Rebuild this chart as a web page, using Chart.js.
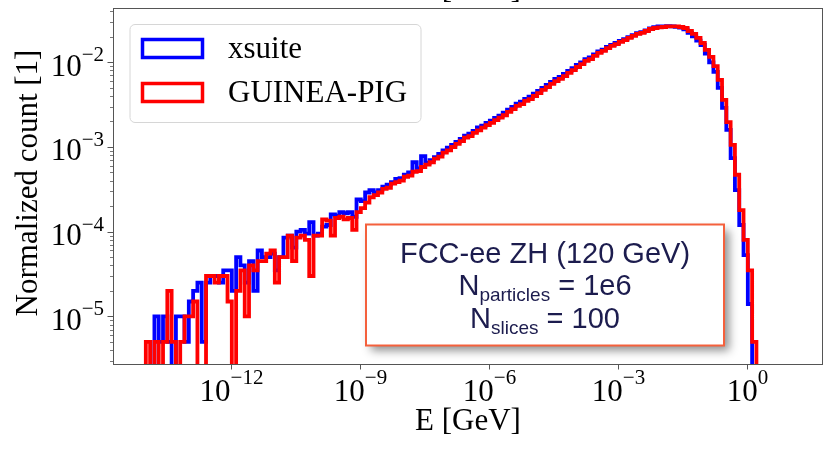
<!DOCTYPE html>
<html>
<head>
<meta charset="utf-8">
<script src="https://cdn.jsdelivr.net/npm/chart.js@4.4.1/dist/chart.umd.min.js"></script>
<style>
  html, body { margin: 0; padding: 0; background: #fff; }
  #wrap { width: 827px; height: 450px; }
</style>
</head>
<body>
<div id="wrap"><canvas id="spectrumChart" width="827" height="450"></canvas></div>
<script>
// histogram bins: log10 of the first edge and the log10 width of each bin
const firstEdgeExp = -13.98;
const binStepExp = 0.1;

// normalized counts per bin, empty bins are 0
const xsuiteCounts = [
  0, 0, 1e-5, 5e-6, 1e-5, 5e-6, 0, 1e-5, 1e-5, 5e-6,
  1.5e-5, 2e-5, 2.5e-5, 5e-6, 2.5e-5, 3e-5, 3e-5, 2.5e-5, 3.5e-5, 3.5e-5,
  2e-5, 5e-5, 4e-5, 2.5e-5, 4.5e-5, 2e-5, 6e-5, 5e-5, 5e-5, 5.5e-5,
  3.5e-5, 5e-5, 8.5e-5, 9e-5, 6.5e-5, 1e-4, 1.05e-4, 9.5e-5, 1.3e-4, 9e-5,
  9.5e-5, 1.15e-4, 1.2e-4, 1.6e-4, 1.55e-4, 1.7e-4, 1.65e-4, 1.7e-4, 1.5e-4, 2.4e-4,
  2.3e-4, 2.9e-4, 3.1e-4, 2.9e-4, 3.1e-4, 3.4e-4, 3.6e-4, 3.85e-4, 4.2e-4, 4.3e-4,
  4.7e-4, 5.0e-4, 6.6e-4, 5.6e-4, 7.8e-4, 6.5e-4, 7.0e-4, 7.6e-4, 8.3e-4, 9.1e-4,
  9.8e-4, 1.06e-3, 1.15e-3, 1.25e-3, 1.36e-3, 1.44e-3, 1.55e-3, 1.7e-3, 1.78e-3, 1.93e-3,
  2.05e-3, 2.2e-3, 2.35e-3, 2.55e-3, 2.75e-3, 2.98e-3, 3.25e-3, 3.42e-3, 3.7e-3, 3.92e-3,
  4.25e-3, 4.6e-3, 5.0e-3, 5.4e-3, 5.85e-3, 6.35e-3, 6.7e-3, 7.3e-3, 7.9e-3, 8.55e-3,
  9.3e-3, 1.0e-2, 1.09e-2, 1.14e-2, 1.24e-2, 1.34e-2, 1.41e-2, 1.52e-2, 1.6e-2, 1.69e-2,
  1.79e-2, 1.88e-2, 1.98e-2, 2.09e-2, 2.2e-2, 2.27e-2, 2.38e-2, 2.52e-2, 2.6e-2, 2.66e-2,
  2.66e-2, 2.67e-2, 2.65e-2, 2.62e-2, 2.56e-2, 2.45e-2, 2.22e-2, 2.02e-2, 1.8e-2, 1.6e-2,
  1.27e-2, 1.0e-2, 7.7e-3, 5.0e-3, 2.9e-3, 1.59e-3, 7.4e-4, 3.1e-4, 1.2e-4, 5.3e-5, 1.4e-5, 0
];
const guineaPigCounts = [
  5e-6, 0, 5e-6, 0, 5e-6, 2e-5, 5e-6, 0, 5e-6, 1e-5,
  1e-5, 1.5e-5, 0, 0, 3e-5, 3e-5, 2.5e-5, 3e-5, 3e-5, 1.5e-5,
  0, 2e-5, 3.5e-5, 1e-5, 4e-5, 3.5e-5, 4.5e-5, 4.5e-5, 5.5e-5, 6e-5,
  2.5e-5, 5e-5, 5e-5, 9e-5, 4.5e-5, 8.5e-5, 9e-5, 8e-5, 3e-5, 9e-5,
  9e-5, 1.4e-4, 1.35e-4, 9e-5, 1.45e-4, 1.5e-4, 1.4e-4, 1.45e-4, 1.05e-4, 1.7e-4,
  1.9e-4, 2.2e-4, 2.55e-4, 2.7e-4, 2.9e-4, 3.2e-4, 3.3e-4, 3.7e-4, 3.85e-4, 4.0e-4,
  4.45e-4, 4.6e-4, 5.1e-4, 5.2e-4, 5.8e-4, 6.2e-4, 6.6e-4, 7.3e-4, 7.7e-4, 8.6e-4,
  9.1e-4, 1.0e-3, 1.09e-3, 1.17e-3, 1.29e-3, 1.34e-3, 1.47e-3, 1.57e-3, 1.69e-3, 1.81e-3,
  1.93e-3, 2.07e-3, 2.22e-3, 2.37e-3, 2.6e-3, 2.8e-3, 3.06e-3, 3.2e-3, 3.5e-3, 3.68e-3,
  4.0e-3, 4.32e-3, 4.73e-3, 5.08e-3, 5.55e-3, 6.0e-3, 6.38e-3, 6.86e-3, 7.5e-3, 8.1e-3,
  8.8e-3, 9.5e-3, 1.04e-2, 1.09e-2, 1.19e-2, 1.29e-2, 1.36e-2, 1.47e-2, 1.56e-2, 1.64e-2,
  1.74e-2, 1.83e-2, 1.94e-2, 2.05e-2, 2.16e-2, 2.22e-2, 2.34e-2, 2.47e-2, 2.54e-2, 2.58e-2,
  2.61e-2, 2.65e-2, 2.65e-2, 2.65e-2, 2.61e-2, 2.54e-2, 2.34e-2, 2.16e-2, 1.94e-2, 1.69e-2,
  1.40e-2, 1.16e-2, 9.0e-3, 6.2e-3, 3.6e-3, 1.97e-3, 1.06e-3, 4.7e-4, 1.8e-4, 8e-5, 3.5e-5, 5e-6
];

const seriesNames = ['xsuite', 'GUINEA-PIG'];
const xTickExps = [-12, -9, -6, -3, 0];
const yTickExps = [-5, -4, -3, -2];
const infoLines = ['FCC-ee ZH (120 GeV)', '1e6', '100'];

const serif = '"Liberation Serif", "Times New Roman", serif';
const sans = '"Liberation Sans", Arial, sans-serif';
const emptyLevel = 1e-9; // empty bins go below the axis like in matplotlib

// step outline: start at the floor, one point per left edge, close at the floor
function stepPoints(counts) {
  const pts = [{ x: Math.pow(10, firstEdgeExp), y: emptyLevel }];
  counts.forEach((c, i) => {
    pts.push({ x: Math.pow(10, firstEdgeExp + i * binStepExp), y: c > 0 ? c : emptyLevel });
  });
  const lastEdge = Math.pow(10, firstEdgeExp + counts.length * binStepExp);
  const last = counts[counts.length - 1];
  pts.push({ x: lastEdge, y: last > 0 ? last : emptyLevel });
  pts.push({ x: lastEdge, y: emptyLevel });
  return pts;
}

function drawPower(ctx, exp, x, baseY, supY, align) {
  const base = '10';
  const sup = (exp < 0 ? '\u2212' : '') + Math.abs(exp);
  ctx.font = '31px ' + serif;
  const wb = ctx.measureText(base).width;
  ctx.font = '21px ' + serif;
  const ws = ctx.measureText(sup).width;
  const x0 = align === 'right' ? x - wb - ws : x - (wb + ws) / 2;
  ctx.textAlign = 'left';
  ctx.textBaseline = 'alphabetic';
  ctx.font = '31px ' + serif;
  ctx.fillText(base, x0, baseY);
  ctx.font = '21px ' + serif;
  ctx.fillText(sup, x0 + wb, supY);
}

const decorations = {
  id: 'decorations',
  afterDatasetsDraw(chart) {
    const ctx = chart.ctx;
    const a = chart.chartArea;
    const xs = chart.scales.x, ys = chart.scales.y;
    ctx.save();

    // frame
    ctx.strokeStyle = '#555';
    ctx.lineWidth = 1;
    ctx.strokeRect(Math.round(a.left) - 0.5, Math.round(a.top) - 0.5, a.right - a.left + 1, a.bottom - a.top + 1);

    // y ticks (major + minor) and labels
    ctx.fillStyle = '#000';
    for (let e = -6; e <= -1; e++) {
      for (let m = 1; m <= 9; m++) {
        const v = m * Math.pow(10, e);
        if (v < ys.min || v > ys.max) continue;
        const py = Math.round(ys.getPixelForValue(v)) + 0.5;
        const len = m === 1 ? 6 : 3.5;
        ctx.beginPath();
        ctx.lineWidth = m === 1 ? 1 : 0.8;
        ctx.moveTo(a.left - 0.5, py);
        ctx.lineTo(a.left - 0.5 - len, py);
        ctx.stroke();
      }
    }
    yTickExps.forEach(e => {
      const py = ys.getPixelForValue(Math.pow(10, e));
      drawPower(ctx, e, 104, py + 13.5, py - 1, 'right');
    });

    // x ticks and labels
    xTickExps.forEach(e => {
      const px = Math.round(xs.getPixelForValue(Math.pow(10, e))) + 0.5;
      ctx.beginPath();
      ctx.lineWidth = 1;
      ctx.moveTo(px, a.bottom + 0.5);
      ctx.lineTo(px, a.bottom + 5.5);
      ctx.stroke();
      drawPower(ctx, e, px, 401, 383.5, 'center');
    });

    // axis titles (the upper copy is the clipped label of the panel above)
    ctx.font = '31px ' + serif;
    ctx.textAlign = 'center';
    ctx.textBaseline = 'alphabetic';
    const cx = (a.left + a.right) / 2;
    ctx.fillText('E [GeV]', cx, 430);
    ctx.fillText('E [GeV]', cx, -2.5);
    ctx.save();
    ctx.translate(36.5, 183);
    ctx.rotate(-Math.PI / 2);
    ctx.fillText('Normalized count [1]', 0, 0);
    ctx.restore();

    // legend
    ctx.beginPath();
    ctx.roundRect(130, 24.5, 291, 98, 5);
    ctx.fillStyle = 'rgba(255,255,255,0.85)';
    ctx.fill();
    ctx.strokeStyle = '#d6d6d6';
    ctx.lineWidth = 1;
    ctx.stroke();
    const colors = ['#0000ff', '#ff0000'];
    seriesNames.forEach((name, i) => {
      const top = 39.5 + i * 44;
      ctx.strokeStyle = colors[i];
      ctx.lineWidth = 3.5;
      ctx.lineJoin = 'miter';
      ctx.strokeRect(142.5, top, 60, 18);
      ctx.fillStyle = '#000';
      ctx.font = '31px ' + serif;
      ctx.textAlign = 'left';
      ctx.fillText(name, 228, 58.3 + i * 44);
    });

    // info box with shadow
    const bx = 366, by = 224.5, bw = 358, bh = 121;
    ctx.save();
    ctx.shadowColor = 'rgba(0,0,0,0.45)';
    ctx.shadowBlur = 9;
    ctx.shadowOffsetX = 5;
    ctx.shadowOffsetY = 5;
    ctx.fillStyle = '#fff';
    ctx.fillRect(bx, by, bw, bh);
    ctx.restore();
    ctx.strokeStyle = '#f4603c';
    ctx.lineWidth = 2;
    ctx.strokeRect(bx, by, bw, bh);

    const tc = bx + bw / 2;
    ctx.fillStyle = '#1c1c4e';
    ctx.textAlign = 'center';
    ctx.font = '29px ' + sans;
    ctx.fillText(infoLines[0], tc, 263);

    const subLine = (sub, rest, baseY) => {
      ctx.font = '29px ' + sans;
      const wN = ctx.measureText('N').width;
      const wR = ctx.measureText(' = ' + rest).width;
      ctx.font = '19px ' + sans;
      const wS = ctx.measureText(sub).width;
      let x0 = tc - (wN + wS + wR) / 2;
      ctx.textAlign = 'left';
      ctx.font = '29px ' + sans;
      ctx.fillText('N', x0, baseY);
      ctx.font = '19px ' + sans;
      ctx.fillText(sub, x0 + wN, baseY + 6);
      ctx.font = '29px ' + sans;
      ctx.fillText(' = ' + rest, x0 + wN + wS, baseY);
    };
    subLine('particles', infoLines[1], 295);
    subLine('slices', infoLines[2], 328);

    ctx.restore();
  }
};

new Chart(document.getElementById('spectrumChart'), {
  type: 'line',
  data: {
    datasets: [
      {
        label: seriesNames[0],
        data: stepPoints(xsuiteCounts),
        borderColor: '#0000ff',
        borderWidth: 3.8,
        order: 1
      },
      {
        label: seriesNames[1],
        data: stepPoints(guineaPigCounts),
        borderColor: '#ff0000',
        borderWidth: 3.8,
        order: 0
      }
    ]
  },
  options: {
    responsive: false,
    animation: false,
    devicePixelRatio: 1,
    parsing: false,
    normalized: true,
    layout: { padding: { left: 114, right: 5, top: 9, bottom: 86 } },
    elements: {
      line: { stepped: 'before', fill: false, tension: 0, borderJoinStyle: 'miter', borderCapStyle: 'butt' },
      point: { radius: 0, hoverRadius: 0 }
    },
    scales: {
      x: { type: 'logarithmic', display: false, min: Math.pow(10, -14.72), max: Math.pow(10, 1.745) },
      y: { type: 'logarithmic', display: false, min: Math.pow(10, -5.562), max: Math.pow(10, -1.371) }
    },
    plugins: {
      legend: { display: false },
      tooltip: { enabled: false }
    }
  },
  plugins: [decorations]
});
</script>
</body>
</html>
